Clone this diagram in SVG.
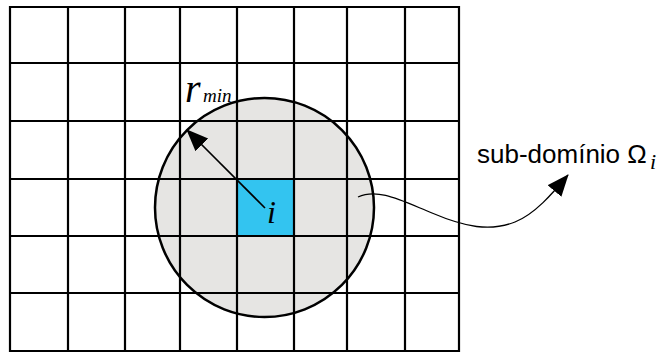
<svg xmlns="http://www.w3.org/2000/svg" width="668" height="354" viewBox="0 0 668 354">
  <style>
    .grid { fill: none; stroke: #000; stroke-width: 2.2; }
    .serif-it { font-family: "Liberation Serif", "Times New Roman", serif; font-style: italic; fill: #000; }
    .sans { font-family: "Liberation Sans", Arial, sans-serif; fill: #000; }
    .conn { fill: none; stroke: #000; }
  </style>
  <defs>
    <marker id="arrow" markerUnits="userSpaceOnUse" markerWidth="24" markerHeight="20" refX="21" refY="9" orient="auto">
      <path d="M0,0 L22,9 L0,18 Z" fill="#000"/>
    </marker>
  </defs>
  <rect width="668" height="354" fill="#fff"/>
  <g id="subdomain-circle-fill">
    <circle cx="264.5" cy="207.5" r="109.5" fill="#E6E5E3"/>
  </g>
  <g id="cell-i">
    <rect x="237" y="179" width="57" height="57" fill="#33C4F0"/>
  </g>
  <g id="grid">
    <path class="grid" d="M10,7 H459 V351 H10 Z
      M68,7 V351 M125,7 V351 M180,7 V351 M237,7 V351 M294,7 V351 M347,7 V351 M405,7 V351
      M10,63 H459 M10,121 H459 M10,179 H459 M10,236 H459 M10,293 H459"/>
  </g>
  <g id="subdomain-circle">
    <circle cx="264.5" cy="207.5" r="109.5" fill="none" stroke="#000" stroke-width="2.5"/>
  </g>
  <g id="connectors">
    <line class="conn" x1="265" y1="208" x2="187" y2="130" stroke-width="1.6" marker-end="url(#arrow)"/>
    <path class="conn" d="M358,197 C378,188 400,200 432,213 C465,227 490,232 515,222 C535,214 552,194 568,175" stroke-width="1.3" marker-end="url(#arrow)"/>
  </g>
  <g id="label-i">
    <text class="serif-it" x="267" y="223" font-size="32">i</text>
  </g>
  <g id="label-rmin">
    <text class="serif-it" x="185" y="102" font-size="40">r</text>
    <text class="serif-it" x="203" y="102" font-size="19">min</text>
  </g>
  <g id="label-subdomain">
    <text class="sans" x="477" y="163" font-size="26">sub-domínio Ω</text>
    <text class="serif-it" x="650" y="169" font-size="22">i</text>
  </g>
</svg>
